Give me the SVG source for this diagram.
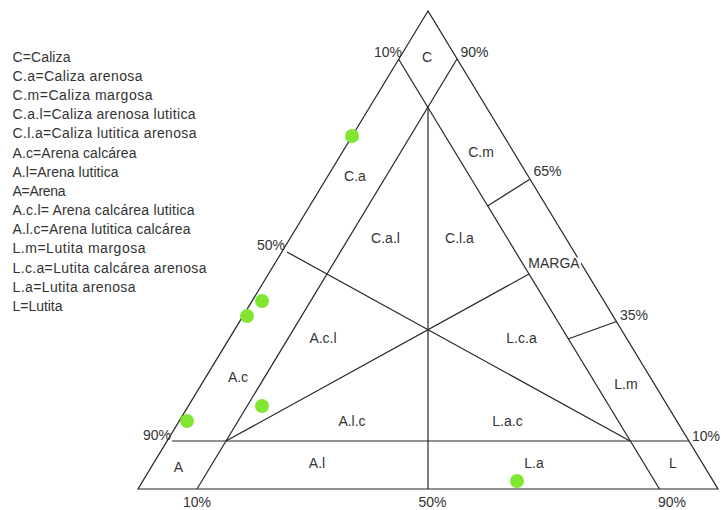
<svg xmlns="http://www.w3.org/2000/svg" width="721" height="510" viewBox="0 0 721 510">
  <style>
    .ln { stroke: #262626; stroke-width: 1.2; fill: none; }
    .t { font-family: "Liberation Sans", Arial, sans-serif; font-size: 14px; fill: #333333; }
    .c { text-anchor: middle; }
    .dot { fill: #80e632; }
  </style>
  <rect width="721" height="510" fill="#ffffff"/>

  <!-- legend -->
  <g id="legend" class="t">
    <text x="12.5" y="61.7" textLength="58" lengthAdjust="spacing">C=Caliza</text>
    <text x="12.5" y="80.9" textLength="130" lengthAdjust="spacing">C.a=Caliza arenosa</text>
    <text x="12.5" y="100.0" textLength="140" lengthAdjust="spacing">C.m=Caliza margosa</text>
    <text x="12.5" y="119.2" textLength="183" lengthAdjust="spacing">C.a.l=Caliza arenosa lutitica</text>
    <text x="12.5" y="138.4" textLength="184" lengthAdjust="spacing">C.l.a=Caliza lutitica arenosa</text>
    <text x="12.5" y="157.5" textLength="124" lengthAdjust="spacing">A.c=Arena calcárea</text>
    <text x="12.5" y="176.7" textLength="106" lengthAdjust="spacing">A.l=Arena lutitica</text>
    <text x="12.5" y="195.9" textLength="53" lengthAdjust="spacing">A=Arena</text>
    <text x="12.5" y="215.1" textLength="182" lengthAdjust="spacing">A.c.l= Arena calcárea lutitica</text>
    <text x="12.5" y="234.2" textLength="178" lengthAdjust="spacing">A.l.c=Arena lutitica calcárea</text>
    <text x="12.5" y="253.4" textLength="133" lengthAdjust="spacing">L.m=Lutita margosa</text>
    <text x="12.5" y="272.6" textLength="194" lengthAdjust="spacing">L.c.a=Lutita calcárea arenosa</text>
    <text x="12.5" y="291.7" textLength="123" lengthAdjust="spacing">L.a=Lutita arenosa</text>
    <text x="12.5" y="310.9" textLength="50" lengthAdjust="spacing">L=Lutita</text>
  </g>

  <!-- triangle frame and field boundaries -->
  <g id="lines" class="ln">
    <polygon points="428,11 138,489 718,489"/>
    <line x1="457" y1="59" x2="197" y2="489"/>
    <line x1="398.5" y1="59" x2="659.5" y2="489"/>
    <line x1="428" y1="107" x2="428" y2="489"/>
    <line x1="172" y1="441" x2="689" y2="441"/>
    <line x1="287" y1="252" x2="630" y2="441"/>
    <line x1="226" y1="441" x2="529" y2="274"/>
    <line x1="487.5" y1="206" x2="529.5" y2="179.5"/>
    <line x1="568" y1="339" x2="616.5" y2="321.5"/>
  </g>

  <!-- field labels -->
  <g id="labels" class="t">
    <text x="388" y="57" class="c">10%</text>
    <text x="427" y="62" class="c">C</text>
    <text x="474.5" y="57" class="c">90%</text>
    <text x="481" y="157" class="c">C.m</text>
    <text x="547.5" y="176" class="c">65%</text>
    <rect x="528" y="257.5" width="53" height="12" fill="#ffffff"/>
    <text x="554" y="268" class="c">MARGA</text>
    <text x="634" y="320" class="c">35%</text>
    <text x="355" y="181" class="c">C.a</text>
    <text x="385.5" y="243" class="c">C.a.l</text>
    <text x="459.5" y="243" class="c">C.l.a</text>
    <text x="271" y="250" class="c">50%</text>
    <text x="323" y="343" class="c">A.c.l</text>
    <text x="521.5" y="343" class="c">L.c.a</text>
    <text x="626" y="389" class="c">L.m</text>
    <text x="238" y="382" class="c">A.c</text>
    <text x="352" y="426" class="c">A.l.c</text>
    <text x="507.5" y="426" class="c">L.a.c</text>
    <text x="157" y="440" class="c">90%</text>
    <text x="706" y="441" class="c">10%</text>
    <text x="178.5" y="472" class="c">A</text>
    <text x="317" y="468" class="c">A.l</text>
    <text x="534" y="468" class="c">L.a</text>
    <text x="673" y="468" class="c">L</text>
    <text x="197" y="507" class="c">10%</text>
    <text x="432.5" y="507" class="c">50%</text>
    <text x="672" y="507" class="c">90%</text>
  </g>

  <!-- sample points -->
  <g id="samples">
    <circle class="dot" cx="352" cy="136" r="7"/>
    <circle class="dot" cx="262" cy="301" r="7"/>
    <circle class="dot" cx="247" cy="316" r="7"/>
    <circle class="dot" cx="187" cy="421" r="7"/>
    <circle class="dot" cx="262" cy="406" r="7"/>
    <circle class="dot" cx="517" cy="481" r="7"/>
  </g>
</svg>
